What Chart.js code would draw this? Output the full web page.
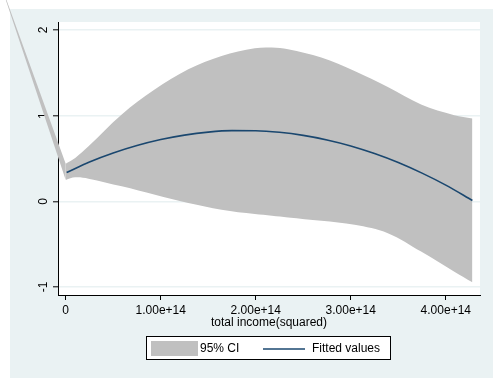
<!DOCTYPE html>
<html><head><meta charset="utf-8">
<script src="https://cdn.jsdelivr.net/npm/chart.js@4.4.0/dist/chart.umd.min.js"></script>
<style>html,body{margin:0;padding:0;background:#fff}#wrap{width:496px;height:388px;position:relative}</style>
</head><body><div id="wrap"><canvas id="c" width="496" height="388"></canvas></div>
<script>
// ---- data ----
const leadX     = [-0.90e14, 0];
const leadUpper = [3.20, 0.44];
const leadLower = [3.25, 0.25];

const ciX     = [0, 0.10e14, 0.24e14, 0.59e14, 0.94e14, 1.29e14, 1.64e14, 1.99e14, 2.17e14, 2.34e14, 2.69e14, 3.04e14, 3.39e14, 3.74e14, 4.09e14, 4.28e14];
const ciUpper = [0.44, 0.507, 0.643, 1.014, 1.307, 1.541, 1.697, 1.787, 1.795, 1.775, 1.678, 1.521, 1.334, 1.131, 1.006, 0.967];
const ciLower = [0.25, 0.280, 0.265, 0.175, 0.077, -0.020, -0.098, -0.149, -0.168, -0.188, -0.227, -0.274, -0.372, -0.587, -0.821, -0.945];

const fitX = [0.01e14, 0.25e14, 0.5e14, 0.75e14, 1.0e14, 1.25e14, 1.5e14, 1.75e14, 2.0e14, 2.25e14, 2.5e14, 2.75e14, 3.0e14, 3.25e14, 3.5e14, 3.75e14, 4.0e14, 4.28e14];
const fitY = [0.337, 0.459, 0.564, 0.651, 0.721, 0.773, 0.808, 0.825, 0.824, 0.806, 0.770, 0.717, 0.647, 0.558, 0.453, 0.329, 0.189, 0.010];

const xTickValues = [0, 1e14, 2e14, 3e14, 4e14];
const xTickLabels = ['0', '1.00e+14', '2.00e+14', '3.00e+14', '4.00e+14'];
const yTickValues = [-1, 0, 1, 2];
const yTickLabels = ['-1', '0', '1', '2'];
const xAxisTitle = 'total income(squared)';
const legendLabels = ['95% CI', 'Fitted values'];

// ---- styles ----
const FONT = "'Liberation Sans', Arial, sans-serif";
const BAND = '#c0c0c0';
const NAVY = '#1a476f';
const PANEL = '#eaf2f3';

const pts = (xs, ys) => xs.map((x, i) => ({x: x, y: ys[i]}));

const bgPlugin = {
  id: 'bg',
  beforeDraw(chart) {
    const ctx = chart.ctx, a = chart.chartArea;
    ctx.save();
    ctx.fillStyle = '#ffffff';
    ctx.fillRect(0, 0, chart.width, chart.height);
    ctx.fillStyle = PANEL;
    ctx.fillRect(10, 9, 483, 369);
    ctx.fillStyle = '#ffffff';
    ctx.fillRect(a.left, a.top, a.right - a.left, a.bottom - a.top);
    ctx.restore();
  }
};

// the leading part of the CI band runs outside the plot region (as in the reference);
// fill it between the library-computed points of the two lead datasets, unclipped
const leadBandPlugin = {
  id: 'leadBand',
  beforeDatasetsDraw(chart) {
    const up = chart.getDatasetMeta(3).data, lo = chart.getDatasetMeta(4).data;
    if (!up.length || !lo.length) return;
    const ctx = chart.ctx;
    ctx.save();
    ctx.fillStyle = BAND;
    ctx.beginPath();
    up.forEach((p, i) => { if (i === 0) ctx.moveTo(p.x, p.y); else ctx.lineTo(p.x, p.y); });
    for (let i = lo.length - 1; i >= 0; i--) ctx.lineTo(lo[i].x, lo[i].y);
    ctx.closePath();
    ctx.fill();
    ctx.restore();
  }
};

const legendPlugin = {
  id: 'stataLegend',
  afterDraw(chart) {
    const ctx = chart.ctx;
    ctx.save();
    ctx.fillStyle = '#ffffff';
    ctx.fillRect(146, 336, 244, 23);
    ctx.strokeStyle = '#000';
    ctx.lineWidth = 1;
    ctx.strokeRect(146.5, 336.5, 244, 23);
    ctx.fillStyle = BAND;
    ctx.fillRect(151, 341, 47, 15);
    ctx.strokeStyle = NAVY;
    ctx.lineWidth = 1.6;
    ctx.beginPath(); ctx.moveTo(263, 349); ctx.lineTo(305, 349); ctx.stroke();
    ctx.fillStyle = '#000';
    ctx.font = '12px ' + FONT;
    ctx.textBaseline = 'middle';
    ctx.textAlign = 'left';
    ctx.fillText(legendLabels[0], 200, 349);
    ctx.fillText(legendLabels[1], 312, 349);
    ctx.restore();
  }
};

new Chart(document.getElementById('c'), {
  type: 'line',
  data: {
    datasets: [
      { label: legendLabels[1], data: pts(fitX, fitY), borderColor: NAVY, borderWidth: 1.6,
        pointRadius: 0, fill: false, cubicInterpolationMode: 'monotone' },
      { label: 'ciUpper', data: pts(ciX, ciUpper), borderColor: 'rgba(0,0,0,0)', borderWidth: 0,
        backgroundColor: BAND, pointRadius: 0, fill: false, tension: 0.35, clip: false },
      { label: legendLabels[0], data: pts(ciX, ciLower), borderColor: 'rgba(0,0,0,0)', borderWidth: 0,
        backgroundColor: BAND, pointRadius: 0, fill: '-1', tension: 0.35, clip: false },
      { label: 'leadUpper', data: pts(leadX, leadUpper), borderColor: 'rgba(0,0,0,0)', borderWidth: 0,
        backgroundColor: BAND, pointRadius: 0, fill: false, tension: 0, clip: false },
      { label: 'leadLower', data: pts(leadX, leadLower), borderColor: 'rgba(0,0,0,0)', borderWidth: 0,
        backgroundColor: BAND, pointRadius: 0, fill: false, tension: 0, clip: false }
    ]
  },
  options: {
    responsive: false,
    devicePixelRatio: 1,
    animation: false,
    layout: { padding: { left: 0, top: 22, right: 16, bottom: 53 } },
    plugins: { legend: { display: false }, tooltip: { enabled: false } },
    scales: {
      x: {
        type: 'linear', min: -0.081e14, max: 4.36e14,
        afterBuildTicks: s => { s.ticks = xTickValues.map(v => ({value: v})); },
        afterFit: s => { s.height = 40; },
        ticks: { callback: (v, i) => xTickLabels[i], color: '#000', font: { family: FONT, size: 12 },
                 padding: 3, maxRotation: 0, autoSkip: false },
        grid: { drawOnChartArea: false, drawTicks: true, tickLength: 5, tickColor: '#000', tickWidth: 1 },
        border: { display: true, color: '#000', width: 1 },
        title: { display: true, text: xAxisTitle, color: '#000', font: { family: FONT, size: 12 },
                 padding: { top: 0, bottom: 5 } }
      },
      y: {
        type: 'linear', min: -1.0934, max: 2.0934,
        afterBuildTicks: s => { s.ticks = yTickValues.map(v => ({value: v})); },
        afterFit: s => { s.width = 58; },
        ticks: { callback: (v, i) => yTickLabels[i], color: '#000', font: { family: FONT, size: 12 },
                 padding: 4, minRotation: 90, maxRotation: 90, crossAlign: 'center', autoSkip: false },
        grid: { color: PANEL, lineWidth: 1.6, drawTicks: true, tickLength: 5, tickColor: '#000', tickWidth: 1 },
        border: { display: true, color: '#000', width: 1 }
      }
    }
  },
  plugins: [bgPlugin, leadBandPlugin, legendPlugin]
});
</script>
</body></html>
